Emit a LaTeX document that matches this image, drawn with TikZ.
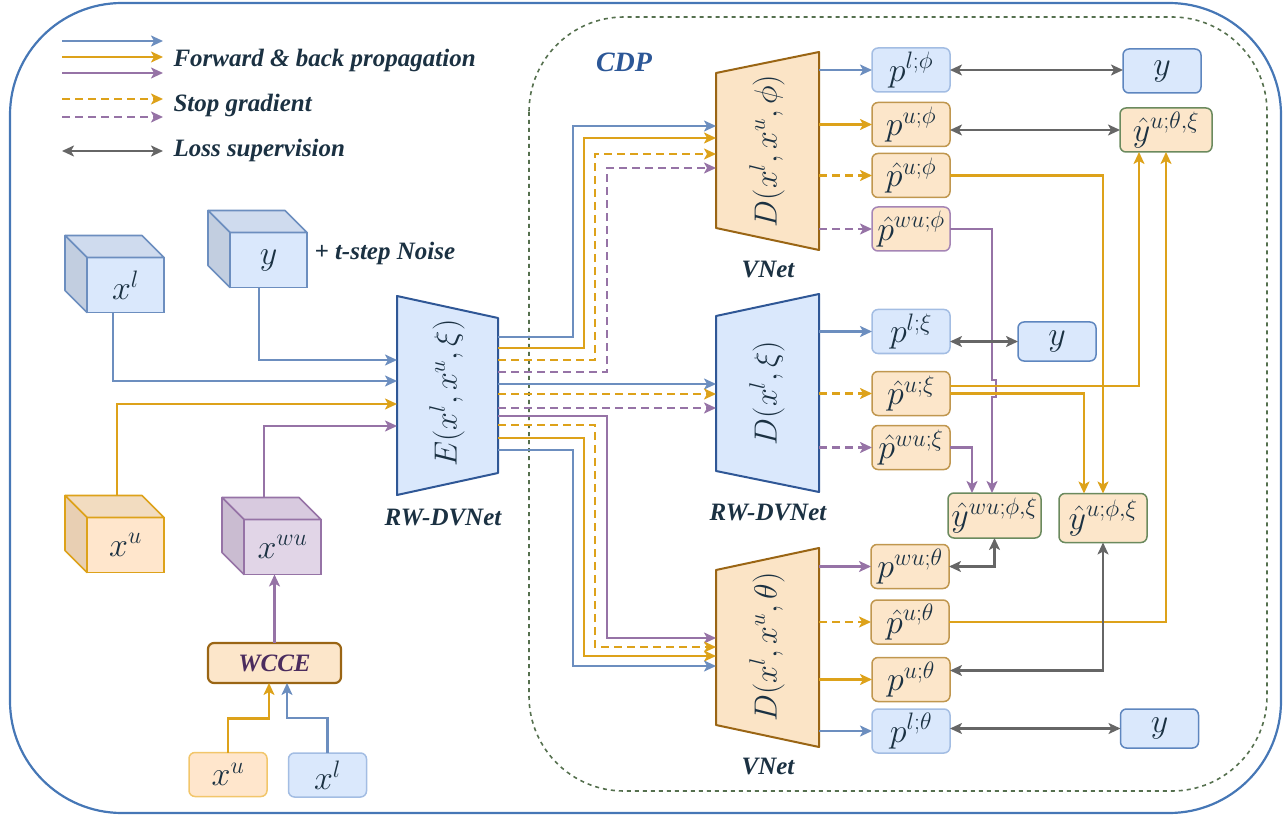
\RequirePackage{fix-cm}
\documentclass[tikz,border=0pt]{standalone}
\usepackage{fontspec}
\setmainfont{Liberation Serif}
\usetikzlibrary{arrows.meta,calc}
\definecolor{cblue}{HTML}{6C8EBF}
\definecolor{cgold}{HTML}{DDA21A}
\definecolor{cpurple}{HTML}{9673A6}
\definecolor{cgray}{HTML}{666666}
\definecolor{ctext}{HTML}{1B3142}
\definecolor{fblue}{HTML}{DAE8FC}
\definecolor{forange}{HTML}{FCE6CA}
\definecolor{fxu}{HTML}{FFE6CC}
\definecolor{fpurple}{HTML}{E1D5E7}
\definecolor{borange}{HTML}{C0974F}
\definecolor{lbord}{HTML}{A3BDE3}
\definecolor{ybord}{HTML}{5E86BF}
\definecolor{gbord}{HTML}{6B8A5E}
\definecolor{pbord}{HTML}{A585B5}
\definecolor{dblue}{HTML}{2F5796}
\definecolor{dbrown}{HTML}{9A6514}
\definecolor{fdec}{HTML}{FBE4C6}
\definecolor{outerc}{HTML}{4677B6}
\definecolor{innerc}{HTML}{55704E}
\definecolor{cbtop}{HTML}{CFDBEE}
\definecolor{cbside}{HTML}{C2CEE0}
\definecolor{cotop}{HTML}{F2DCC0}
\definecolor{coside}{HTML}{E8CFB3}
\definecolor{cptop}{HTML}{D8CADF}
\definecolor{cpside}{HTML}{CABCD1}
\definecolor{wccetext}{HTML}{4B2C5E}
\definecolor{sgold}{HTML}{F2C66B}
\definecolor{cdpc}{HTML}{2C5797}
\tikzset{
  con/.style={line width=2.1pt},
  tip/.style={-{Stealth[length=12pt,width=11pt,inset=3pt]}},
  both/.style={{Stealth[length=12pt,width=11pt,inset=3pt]}-{Stealth[length=12pt,width=11pt,inset=3pt]}},
  dsh/.style={dash pattern=on 8pt off 5pt},
  box/.style={rounded corners=6pt, line width=1.5pt, minimum width=78pt, minimum height=44pt,
    inner sep=0pt, outer sep=0pt, text=ctext, font=\fontsize{34}{36}\selectfont},
  bbox/.style={box, draw=lbord, fill=fblue},
  ybox/.style={box, draw=ybord, fill=fblue},
  obox/.style={box, draw=borange, fill=forange},
  gbox/.style={box, draw=gbord, fill=forange},
  lbl/.style={text=ctext, font=\fontsize{25}{28}\selectfont\bfseries\itshape},
  trapl/.style={text=ctext, font=\fontsize{32}{34}\selectfont, rotate=90},
}
\newcommand\mycube[8]{%
  \node[draw=#4, fill=#5, line width=1.6pt, minimum width=77pt, minimum height=55pt,
    inner sep=0pt, outer sep=0pt, text=ctext, font=\fontsize{34}{36}\selectfont] (#1) at (#2,#3) {#8};
  \filldraw[draw=#4, fill=#6, line width=1.6pt, line join=round] (#1.north west) -- ++(-22,-22)
    -- ($(#1.north east)+(-22,-22)$) -- (#1.north east) -- cycle;
  \filldraw[draw=#4, fill=#7, line width=1.6pt, line join=round] (#1.north west) -- ++(-22,-22)
    -- ($(#1.south west)+(-22,-22)$) -- (#1.south west) -- cycle;
}
\begin{document}
\begin{tikzpicture}[x=1pt,y=-1pt]
\useasboundingbox (0,0) rectangle (1288,818);
% frames
\draw[outerc, line width=2.2pt, rounded corners=112pt] (10,3) rectangle (1281,813);
\draw[innerc, line width=1.6pt, dash pattern=on 4pt off 4pt, rounded corners=95pt] (529,17) rectangle (1267,791);
\node[text=cdpc, font=\fontsize{28}{30}\selectfont\bfseries\itshape] (cdp) at (624,62) {CDP};

% legend
\coordinate (l1a) at (62,41);  \coordinate (l1b) at (163,41);
\coordinate (l2a) at (62,57);  \coordinate (l2b) at (163,57);
\coordinate (l3a) at (62,73);  \coordinate (l3b) at (163,73);
\coordinate (l4a) at (62,99);  \coordinate (l4b) at (163,99);
\coordinate (l5a) at (62,117); \coordinate (l5b) at (163,117);
\coordinate (l6a) at (62,151); \coordinate (l6b) at (163,151);
\draw[con,tip,cblue] (l1a) -- (l1b);
\draw[con,tip,cgold] (l2a) -- (l2b);
\draw[con,tip,cpurple] (l3a) -- (l3b);
\draw[con,tip,cgold,dsh] (l4a) -- (l4b);
\draw[con,tip,cpurple,dsh] (l5a) -- (l5b);
\draw[con,both,cgray] (l6a) -- (l6b);
\node[lbl,anchor=west] (lgA) at (170,60) {Forward \& back propagation};
\node[lbl,anchor=west] (lgB) at (170,105) {Stop gradient};
\node[lbl,anchor=west] (lgC) at (170,150) {Loss supervision};

% cubes
\mycube{xl}{125.5}{285}{cblue}{fblue}{cbtop}{cbside}{$x^l$}
\mycube{yc}{268.5}{260}{cblue}{fblue}{cbtop}{cbside}{$y$}
\mycube{xu}{125.5}{545}{cgold}{fxu}{cotop}{coside}{$x^u$}
\mycube{xw}{282.5}{547}{cpurple}{fpurple}{cptop}{cpside}{$x^{wu}$}
\node[lbl,anchor=west] (noise) at (311,253) {+ t-step Noise};

% WCCE and small inputs
\node[box, draw=dbrown, fill=forange, line width=2.2pt, minimum width=133pt, minimum height=40pt,
  text=wccetext, font=\fontsize{25}{28}\selectfont\bfseries\itshape] (wcce) at (274.5,663) {WCCE};
\node[box, draw=sgold, fill=fxu] (sxu) at (228,774.5) {$x^u$};
\node[bbox] (sxl) at (327.5,775) {$x^l$};
\draw[con,tip,cgold] (sxu.north) -- ++(0,-34) -| ($(wcce.south)+(-5.5,0)$);
\draw[con,tip,cblue] (sxl.north) -- ++(0,-35) -| ($(wcce.south)+(12.5,0)$);
\draw[con,tip,cpurple] (wcce.north) -- (xw.south -| wcce.north);

% encoder
\node[minimum width=101pt, minimum height=199pt, inner sep=0pt, outer sep=0pt] (enc) at (447.5,395.5) {};
\filldraw[draw=dblue, fill=fblue, line width=2pt, line join=round] (enc.north west)
  -- ($(enc.north east)+(0,22)$) -- ($(enc.south east)+(0,-22)$) -- (enc.south west) -- cycle;
\node[trapl] (encl) at (447,393) {$E(x^l, x^u, \xi)$};
\node[lbl] (encn) at (443,518) {RW-DVNet};

% decoders
\node[minimum width=103pt, minimum height=198pt, inner sep=0pt, outer sep=0pt] (D1) at (767.5,151) {};
\filldraw[draw=dbrown, fill=fdec, line width=2pt, line join=round] ($(D1.north west)+(0,21)$)
  -- (D1.north east) -- (D1.south east) -- ($(D1.south west)+(0,-22)$) -- cycle;
\node[trapl] (D1l) at (767,151) {$D(x^l, x^u, \phi)$};
\node[lbl] (D1n) at (768,270) {VNet};

\node[minimum width=103pt, minimum height=198pt, inner sep=0pt, outer sep=0pt] (D2) at (767.5,393) {};
\filldraw[draw=dblue, fill=fblue, line width=2pt, line join=round] ($(D2.north west)+(0,22)$)
  -- (D2.north east) -- (D2.south east) -- ($(D2.south west)+(0,-21)$) -- cycle;
\node[trapl] (D2l) at (767,393) {$D(x^l, \xi)$};
\node[lbl] (D2n) at (768,513) {RW-DVNet};

\node[minimum width=103pt, minimum height=199pt, inner sep=0pt, outer sep=0pt] (D3) at (767.5,647.5) {};
\filldraw[draw=dbrown, fill=fdec, line width=2pt, line join=round] ($(D3.north west)+(0,22)$)
  -- (D3.north east) -- (D3.south east) -- ($(D3.south west)+(0,-22)$) -- cycle;
\node[trapl] (D3l) at (767,647) {$D(x^l, x^u, \theta)$};
\node[lbl] (D3n) at (768,766) {VNet};

% inputs to encoder
\draw[con,tip,cblue] ($(xl.south)+(-12.5,0)$) |- ($(enc.west)+(0,-14.5)$);
\draw[con,tip,cblue] ($(yc.south)+(-9.5,0)$) |- ($(enc.west)+(0,-35.5)$);
\draw[con,tip,cgold] ($(xu.north)+(-8.5,-22)$) |- ($(enc.west)+(0,8.5)$);
\draw[con,tip,cpurple] ($(xw.north)+(-18.5,-22)$) |- ($(enc.west)+(0,30.5)$);

% encoder -> D1
\draw[con,tip,cblue] ($(enc.east)+(0,-58.5)$) -| (573,126) -- ($(D1.west)+(0,-25)$);
\draw[con,tip,cgold] ($(enc.east)+(0,-47.5)$) -| (584,138) -- ($(D1.west)+(0,-13)$);
\draw[con,tip,cgold,dsh] ($(enc.east)+(0,-35.5)$) -| (595,154) -- ($(D1.west)+(0,3)$);
\draw[con,tip,cpurple,dsh] ($(enc.east)+(0,-23.5)$) -| (607,168) -- ($(D1.west)+(0,17)$);
% encoder -> D2
\draw[con,tip,cblue] ($(enc.east)+(0,-11.5)$) -- ($(D2.west)+(0,-9)$);
\draw[con,tip,cgold,dsh] ($(enc.east)+(0,-1.5)$) -- ($(D2.west)+(0,1)$);
\draw[con,tip,cpurple,dsh] ($(enc.east)+(0,12.5)$) -- ($(D2.west)+(0,15)$);
% encoder -> D3
\draw[con,tip,cpurple] ($(enc.east)+(0,20.5)$) -| (607,638) -- ($(D3.west)+(0,-9.5)$);
\draw[con,tip,cgold,dsh] ($(enc.east)+(0,29.5)$) -| (595,647) -- ($(D3.west)+(0,-0.5)$);
\draw[con,tip,cgold] ($(enc.east)+(0,42.5)$) -| (584,656) -- ($(D3.west)+(0,8.5)$);
\draw[con,tip,cblue] ($(enc.east)+(0,54.5)$) -| (573,666) -- ($(D3.west)+(0,18.5)$);

% output boxes
\node[bbox] (pl1) at (911,70) {$p^{l;\phi}$};
\node[obox] (pu1) at (911,124.5) {$p^{u;\phi}$};
\node[obox] (ph1) at (911,175.5) {$\hat{p}^{u;\phi}$};
\node[box, draw=pbord, fill=forange] (pw1) at (911,229) {$\hat{p}^{wu;\phi}$};
\node[ybox] (y1) at (1162,71) {$y$};
\node[gbox, minimum width=92pt] (yt) at (1166,130) {$\hat{y}^{u;\theta,\xi}$};

\node[bbox] (pl2) at (911,331.5) {$p^{l;\xi}$};
\node[ybox, minimum height=39pt] (y2) at (1057,341.5) {$y$};
\node[obox] (ph2) at (911,393.5) {$\hat{p}^{u;\xi}$};
\node[obox] (pw2) at (911,447.5) {$\hat{p}^{wu;\xi}$};
\node[gbox, minimum width=93pt, minimum height=45pt] (ywphi) at (994.5,515.5) {$\hat{y}^{wu;\phi,\xi}$};
\node[gbox, minimum width=88pt, minimum height=49pt] (yuphi) at (1103,518) {$\hat{y}^{u;\phi,\xi}$};

\node[obox] (pw3) at (910,566.5) {$p^{wu;\theta}$};
\node[obox] (ph3) at (910,622) {$\hat{p}^{u;\theta}$};
\node[obox] (pu3) at (911,679.5) {$p^{u;\theta}$};
\node[bbox] (pl3) at (911,731) {$p^{l;\theta}$};
\node[ybox, minimum height=39pt] (y3) at (1159.5,728.5) {$y$};

% decoder outputs
\draw[con,tip,cblue] (pl1.west -| D1.east) -- (pl1.west);
\draw[con,tip,cgold] (pu1.west -| D1.east) -- (pu1.west);
\draw[con,tip,cgold,dsh] (ph1.west -| D1.east) -- (ph1.west);
\draw[con,tip,cpurple,dsh] (pw1.west -| D1.east) -- (pw1.west);
\draw[con,tip,cblue] (pl2.west -| D2.east) -- (pl2.west);
\draw[con,tip,cgold,dsh] (ph2.west -| D2.east) -- (ph2.west);
\draw[con,tip,cpurple,dsh] (pw2.west -| D2.east) -- (pw2.west);
\draw[con,tip,cpurple] (pw3.west -| D3.east) -- (pw3.west);
\draw[con,tip,cgold,dsh] (ph3.west -| D3.east) -- (ph3.west);
\draw[con,tip,cgold] (pu3.west -| D3.east) -- (pu3.west);
\draw[con,tip,cblue] (pl3.west -| D3.east) -- (pl3.west);

% ensembles
\draw[con,tip,cgold] (ph1.east) -| (yuphi.north);
\draw[con,tip,cpurple] (pw1.east) -| (992,380) -- (996,380) -- (996,397) -- (992,397) -- ($(ywphi.north)+(-2.5,0)$);
\draw[con,tip,cgold] ($(ph2.east)+(0,-7.5)$) -| ($(yt.south)+(-27,0)$);
\draw[con,tip,cgold] (ph2.east) -| ($(yuphi.north)+(-19,0)$);
\draw[con,tip,cpurple] (pw2.east) -| ($(ywphi.north)+(-22.5,0)$);
\draw[con,tip,cgold] (ph3.east) -| (yt.south);

% loss supervision
\draw[con,both,cgray] (pl1.east) -- (pl1.east -| y1.west);
\draw[con,both,cgray] (yt.west -| pu1.east) -- (yt.west);
\draw[con,both,cgray] (y2.west -| pl2.east) -- (y2.west);
\draw[con,both,cgray] (pw3.east) -| (ywphi.south);
\draw[con,both,cgray] ($(pu3.east)+(0,-9)$) -| (yuphi.south);
\draw[con,both,cgray] (y3.west -| pl3.east) -- (y3.west);
\end{tikzpicture}
\end{document}
